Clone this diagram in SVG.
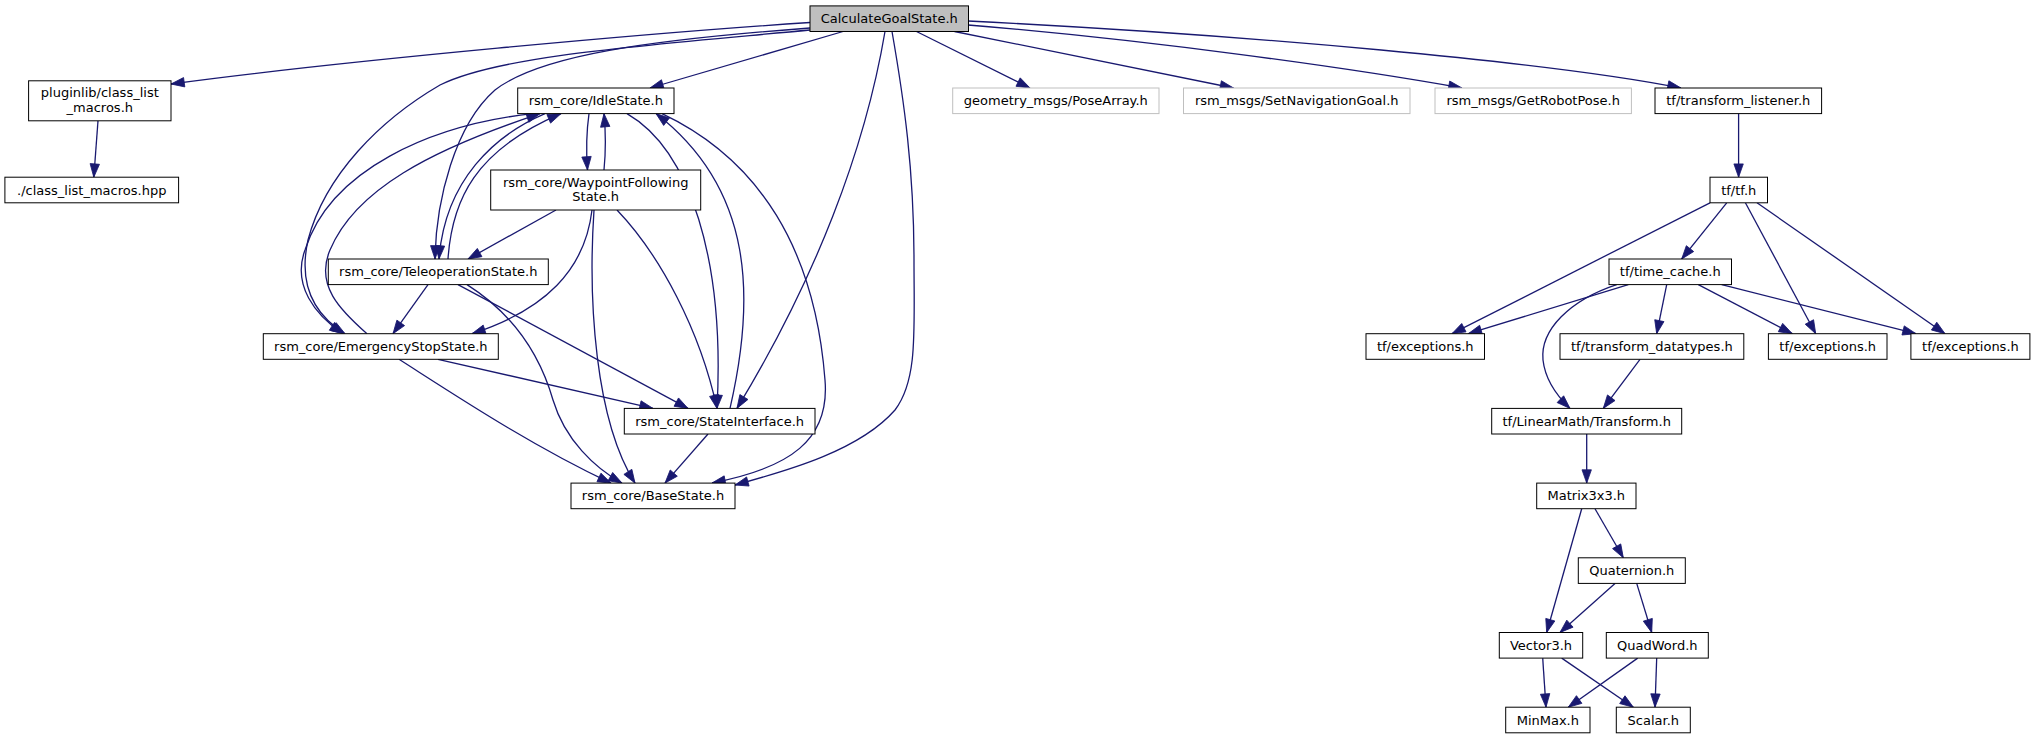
<svg xmlns="http://www.w3.org/2000/svg" width="2035" height="739" viewBox="0 0 2035 739">
<style>
.n rect{fill:#fff;stroke:#000;stroke-width:1}
.g rect{fill:#fff;stroke:#bfbfbf;stroke-width:1}
#root rect{fill:#bfbfbf}
text{font-family:"DejaVu Sans","Liberation Sans",sans-serif;font-size:13px;text-anchor:middle;fill:#000}
#edges path{fill:none;stroke:#191970;stroke-width:1.3;marker-end:url(#arr)}
</style>
<defs>
<marker id="arr" markerUnits="userSpaceOnUse" markerWidth="14" markerHeight="10" viewBox="0 0 14 10" refX="13.3" refY="5" orient="auto" overflow="visible">
<path d="M0,0.3 L13.3,5 L0,9.7 z" fill="#191970" stroke="#191970" stroke-width="0.8"/>
</marker>
</defs>
<rect width="2035" height="739" fill="#fff"/>
<g id="edges">
<path d="M810,22.5 C650,33 350,60 171,84"/>
<path d="M843,31.5 L650,88"/>
<path d="M810,28 C650,40 540,55 495,90 C455,125 436,200 435,259"/>
<path d="M810,30 C650,45 500,55 440,85 C380,120 325,175 308,240 C298,285 315,315 345,333.7"/>
<path d="M885,31.5 C865,150 815,280 737,408.4"/>
<path d="M892,31.5 C904,100 914,170 914,260 C914,330 918,380 895,410 C860,450 790,470 735,485"/>
<path d="M916.5,31.5 L1030,88"/>
<path d="M954.5,31.5 L1233.5,88"/>
<path d="M968,25 C1150,40 1350,68 1462,88"/>
<path d="M968,21 C1250,35 1550,62 1681,88"/>
<path d="M589,113.6 C586,135 586,150 587.5,170"/>
<path d="M604,170 C606,150 606,135 604,113.6"/>
<path d="M545,113.6 C495,135 445,180 439,259"/>
<path d="M448,259 C452,200 475,150 561,113.6"/>
<path d="M533,113.6 C430,125 330,170 305,250 C292,285 315,315 343,333.7"/>
<path d="M367,333.7 C340,310 315,285 330,250 C355,190 430,150 540,113.6"/>
<path d="M556,210 L468,259"/>
<path d="M592,210 C585,270 545,310 472,333.7"/>
<path d="M617,210 C660,255 700,330 717,408.4"/>
<path d="M594,210 C588,300 595,420 635,483.1"/>
<path d="M428,284.6 L393,333.7"/>
<path d="M458,284.6 L688,408.4"/>
<path d="M467,284.6 C515,315 540,355 553,400 C565,440 595,468 622,483.1"/>
<path d="M438,359.3 L653,408.4"/>
<path d="M399,359.3 C455,395 530,445 611,483.1"/>
<path d="M708,434 L665,483.1"/>
<path d="M627,113.6 C690,150 725,260 717,408.4"/>
<path d="M730,408.4 C755,300 755,190 656,113.6"/>
<path d="M662,113.6 C760,160 815,250 825,380 C830,440 790,468 712,483"/>
<path d="M98,120.8 L93.8,177.2"/>
<path d="M1738.6,113.6 L1738.6,177.2"/>
<path d="M1710,202.8 L1452,333.7"/>
<path d="M1726.7,202.8 L1681.7,259"/>
<path d="M1745.4,202.8 L1815.7,333.7"/>
<path d="M1757,202.8 L1945,333.7"/>
<path d="M1628.3,284.6 L1468.3,333.7"/>
<path d="M1616.7,284.6 C1570,300 1540,330 1543,360 C1545,378 1556,395 1570,408.4"/>
<path d="M1666.7,284.6 L1656.7,333.7"/>
<path d="M1698.3,284.6 L1792.3,333.7"/>
<path d="M1721.7,284.6 L1916,333.7"/>
<path d="M1640,359.3 L1603.3,408.4"/>
<path d="M1586.7,434 L1586.7,483.1"/>
<path d="M1581.7,508.7 L1546.7,632.5"/>
<path d="M1595,508.7 L1623.3,557.8"/>
<path d="M1615,583.4 L1560,632.5"/>
<path d="M1636.7,583.4 L1651.7,632.5"/>
<path d="M1542.7,658.1 L1546,707.2"/>
<path d="M1561.7,658.1 L1633.3,707.2"/>
<path d="M1637.7,658.1 L1568.3,707.2"/>
<path d="M1656.7,658.1 L1655,707.2"/>
</g>
<g id="root" class="n"><rect x="810" y="5.9" width="158.5" height="25.6"/><text x="889.25" y="23.2">CalculateGoalState.h</text></g>
<g id="pluginlib" class="n"><rect x="28.6" y="80.8" width="142.4" height="40"/><text x="99.8" y="97.3">pluginlib/class_list</text><text x="99.8" y="111.8">_macros.h</text></g>
<g id="classlistmacros" class="n"><rect x="4.9" y="177.2" width="173.7" height="25.6"/><text x="91.75" y="194.5">./class_list_macros.hpp</text></g>
<g id="idle" class="n"><rect x="517.7" y="88" width="156.3" height="25.6"/><text x="595.85" y="105.3">rsm_core/IdleState.h</text></g>
<g id="posearray" class="g"><rect x="952.7" y="88" width="206.3" height="25.6"/><text x="1055.85" y="105.3">geometry_msgs/PoseArray.h</text></g>
<g id="setnav" class="g"><rect x="1183.5" y="88" width="226.5" height="25.6"/><text x="1296.75" y="105.3">rsm_msgs/SetNavigationGoal.h</text></g>
<g id="getpose" class="g"><rect x="1435" y="88" width="196.4" height="25.6"/><text x="1533.2" y="105.3">rsm_msgs/GetRobotPose.h</text></g>
<g id="tflistener" class="n"><rect x="1655" y="88" width="166.6" height="25.6"/><text x="1738.3" y="105.3">tf/transform_listener.h</text></g>
<g id="waypoint" class="n"><rect x="490.7" y="170" width="210" height="40"/><text x="595.7" y="186.5">rsm_core/WaypointFollowing</text><text x="595.7" y="201">State.h</text></g>
<g id="tf" class="n"><rect x="1710" y="177.2" width="57.5" height="25.6"/><text x="1738.75" y="194.5">tf/tf.h</text></g>
<g id="teleop" class="n"><rect x="328.3" y="259" width="220" height="25.6"/><text x="438.3" y="276.3">rsm_core/TeleoperationState.h</text></g>
<g id="timecache" class="n"><rect x="1609" y="259" width="122.5" height="25.6"/><text x="1670.25" y="276.3">tf/time_cache.h</text></g>
<g id="estop" class="n"><rect x="263.3" y="333.7" width="235" height="25.6"/><text x="380.8" y="351">rsm_core/EmergencyStopState.h</text></g>
<g id="exc1" class="n"><rect x="1366" y="333.7" width="118.5" height="25.6"/><text x="1425.25" y="351">tf/exceptions.h</text></g>
<g id="tfdatatypes" class="n"><rect x="1560" y="333.7" width="183.8" height="25.6"/><text x="1651.9" y="351">tf/transform_datatypes.h</text></g>
<g id="exc2" class="n"><rect x="1768.4" y="333.7" width="118.6" height="25.6"/><text x="1827.7" y="351">tf/exceptions.h</text></g>
<g id="exc3" class="n"><rect x="1910.9" y="333.7" width="119" height="25.6"/><text x="1970.4" y="351">tf/exceptions.h</text></g>
<g id="stateif" class="n"><rect x="624.3" y="408.4" width="190.7" height="25.6"/><text x="719.65" y="425.7">rsm_core/StateInterface.h</text></g>
<g id="transform" class="n"><rect x="1491.7" y="408.4" width="190" height="25.6"/><text x="1586.7" y="425.7">tf/LinearMath/Transform.h</text></g>
<g id="basestate" class="n"><rect x="571" y="483.1" width="164" height="25.6"/><text x="653" y="500.4">rsm_core/BaseState.h</text></g>
<g id="matrix" class="n"><rect x="1536.7" y="483.1" width="99.3" height="25.6"/><text x="1586.35" y="500.4">Matrix3x3.h</text></g>
<g id="quaternion" class="n"><rect x="1578.3" y="557.8" width="107" height="25.6"/><text x="1631.8" y="575.1">Quaternion.h</text></g>
<g id="vector3" class="n"><rect x="1499.3" y="632.5" width="83.4" height="25.6"/><text x="1541" y="649.8">Vector3.h</text></g>
<g id="quadword" class="n"><rect x="1606.3" y="632.5" width="102" height="25.6"/><text x="1657.3" y="649.8">QuadWord.h</text></g>
<g id="minmax" class="n"><rect x="1505.7" y="707.2" width="84.3" height="25.6"/><text x="1547.85" y="724.5">MinMax.h</text></g>
<g id="scalar" class="n"><rect x="1616.3" y="707.2" width="74" height="25.6"/><text x="1653.3" y="724.5">Scalar.h</text></g>
</svg>
